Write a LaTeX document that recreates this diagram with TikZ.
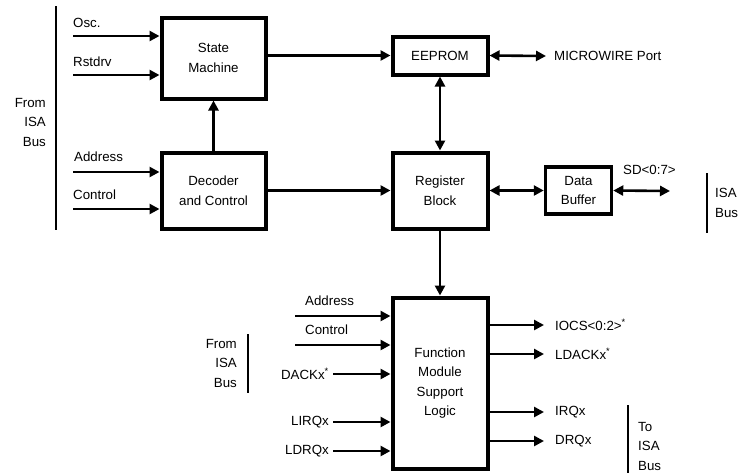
\documentclass[tikz,border=0pt]{standalone}
\usepackage{fontspec}
\setmainfont{Liberation Sans}
\usetikzlibrary{arrows.meta}
\begin{document}
\begin{tikzpicture}[x=1pt,y=-1pt,
  every node/.style={font=\fontsize{13.3}{19.5}\selectfont, inner sep=0pt},
  blk/.style={draw, line width=4pt, align=center},
  arr/.style={line width=2.6pt, -{Triangle[length=10pt,width=10pt]}},
  darr/.style={line width=2.6pt, {Triangle[length=10pt,width=10pt]}-{Triangle[length=10pt,width=10pt]}},
  bus/.style={line width=2pt},
  lbl/.style={anchor=west},
  rlbl/.style={anchor=east}]
\useasboundingbox (0,0) rectangle (740,475);

% blocks
\node[blk, minimum width=104pt, minimum height=81pt] (SM) at (213.5,58) {State\\Machine};
\node[blk, minimum width=104pt, minimum height=76pt] (DC) at (213.5,190.5) {Decoder\\and Control};
\node[blk, minimum width=95pt, minimum height=38pt] (EE) at (440,55.5) {EEPROM};
\node[blk, minimum width=95pt, minimum height=76pt] (RB) at (440,190.5) {Register\\Block};
\node[blk, line width=3.5pt, minimum width=66pt, minimum height=47pt] (DB) at (578.5,190.5) {Data\\Buffer};
\node[blk, minimum width=95pt, minimum height=171pt] (FM) at (440,383) {Function\\Module\\Support\\Logic};

% left ISA bus
\node[align=right, anchor=east] (fromisa1) at (46,122) {From\\ISA\\Bus};
\coordinate (lb1) at (55.5,6);
\coordinate (lb2) at (55.5,230);
\draw[bus] (lb1) -- (lb2);

% inputs to state machine / decoder
\coordinate (iosc) at (73,36);
\coordinate (irst) at (73,75);
\coordinate (iadr) at (73,172);
\coordinate (ictl) at (73,209);
\draw[arr] (iosc) -- (iosc -| SM.west);
\draw[arr] (irst) -- (irst -| SM.west);
\draw[arr] (iadr) -- (iadr -| DC.west);
\draw[arr] (ictl) -- (ictl -| DC.west);
\node[lbl] (tosc) at (73,23) {Osc.};
\node[lbl] (trst) at (73,62) {Rstdrv};
\node[lbl] (tadr) at (74,157) {Address};
\node[lbl] (tctl) at (73,195) {Control};

% internal connections
\draw[arr] (DC.north) -- (SM.south);
\draw[arr] (SM.east |- EE.west) -- (EE.west);
\draw[arr] (DC.east) -- (RB.west);
\draw[darr] (EE.south) -- (RB.north);
\coordinate (mw) at (546,56);
\draw[darr] (EE.east) -- (mw);
\node[lbl] (tmw) at (554,56) {MICROWIRE Port};
\draw[darr] (RB.east) -- (DB.west);
\coordinate (sd) at (670,191);
\draw[darr] (DB.east) -- (sd);
\node[lbl] (tsd) at (623,170) {SD<0:7>};
\coordinate (rb1) at (707,173);
\coordinate (rb2) at (707,233);
\draw[bus] (rb1) -- (rb2);
\node[align=left, anchor=west] (risa) at (715,203) {ISA\\Bus};
\draw[arr] (RB.south) -- (FM.north);

% inputs to function module
\coordinate (fadr) at (295,316);
\coordinate (fctl) at (295,345);
\coordinate (fdack) at (333,374);
\coordinate (flirq) at (333,422);
\coordinate (fldrq) at (333,451);
\draw[arr] (fadr) -- (fadr -| FM.west);
\draw[arr] (fctl) -- (fctl -| FM.west);
\draw[arr] (fdack) -- (fdack -| FM.west);
\draw[arr] (flirq) -- (flirq -| FM.west);
\draw[arr] (fldrq) -- (fldrq -| FM.west);
\node[lbl] (tfadr) at (305,301) {Address};
\node[lbl] (tfctl) at (305,330) {Control};
\node[rlbl] (tfdack) at (329,374) {DACKx\textsuperscript{*}};
\node[rlbl] (tflirq) at (329,422) {LIRQx};
\node[rlbl] (tfldrq) at (329,451) {LDRQx};
\node[align=right, anchor=east] (fromisa2) at (237,363) {From\\ISA\\Bus};
\coordinate (mb1) at (248,334);
\coordinate (mb2) at (248,393);
\draw[bus] (mb1) -- (mb2);

% outputs
\coordinate (oiocs) at (544,325);
\coordinate (oldack) at (544,354);
\coordinate (oirq) at (544,412);
\coordinate (odrq) at (544,441);
\draw[arr] (FM.east |- oiocs) -- (oiocs);
\draw[arr] (FM.east |- oldack) -- (oldack);
\draw[arr] (FM.east |- oirq) -- (oirq);
\draw[arr] (FM.east |- odrq) -- (odrq);
\node[lbl] (tiocs) at (555,325) {IOCS<0:2>\textsuperscript{*}};
\node[lbl] (tldack) at (555,354) {LDACKx\textsuperscript{*}};
\node[lbl] (tirq) at (555,412) {IRQx};
\node[lbl] (tdrq) at (555,441) {DRQx};
\coordinate (ob1) at (628,405);
\coordinate (ob2) at (628,473);
\draw[bus] (ob1) -- (ob2);
\node[align=left, anchor=west] (toisa) at (638,446) {To\\ISA\\Bus};
\end{tikzpicture}
\end{document}
